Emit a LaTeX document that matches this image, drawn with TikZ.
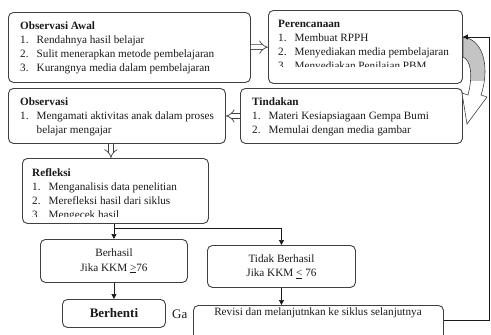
\documentclass[tikz,border=0pt]{standalone}
\usepackage{fontspec}
\setmainfont{Liberation Serif}
\usetikzlibrary{arrows.meta,calc,positioning}
\definecolor{ink}{HTML}{1A1A1A}
\definecolor{edge}{HTML}{404040}
\definecolor{ribbon}{HTML}{C4C4C4}
\newcommand{\nr}[1]{\makebox[16.5pt][l]{#1}}
\tikzset{
  box/.style={draw=edge,fill=white,rounded corners=5pt,line width=0.9pt,inner sep=0pt,anchor=north west},
  txt/.style={inner sep=0pt,anchor=north west,align=left,text=ink,font=\fontsize{11.2}{14}\selectfont},
  ctxt/.style={inner sep=0pt,align=center,text=ink,font=\fontsize{11.2}{14.5}\selectfont},
  flow/.style={-{Triangle[length=5pt,width=5pt]},line width=0.7pt,draw=ink},
  hollow/.style={-{Implies},double=white,double distance=4pt,line width=0.7pt,draw=edge}
}
\def\ribbonpath{(463,37) .. controls (486,40) and (489,72) .. (481,95) -- (487,97) -- (467,124) -- (462,93) -- (468,95) .. controls (473,76) and (471,60) .. (463,57) -- cycle}

\begin{document}
\begin{tikzpicture}[x=1pt,y=-1pt]
  \clip (0,0) rectangle (491,335);
  \fill[white] (0,0) rectangle (491,335);
  % siklus atas
  \node[box,minimum width=242pt,minimum height=70pt] (awal) at (8,12) {};
  \node[txt] (awaltxt) at (20,21.4) {\textbf{Observasi Awal}\\\nr{1.}Rendahnya hasil belajar\\\nr{2.}Sulit menerapkan metode pembelajaran\\\nr{3.}Kurangnya media dalam pembelajaran};
  \node[box,minimum width=194pt,minimum height=73pt] (rencana) at (268,10) {};
  \begin{scope}
    \clip (rencana.north west) rectangle ([yshift=-56pt]rencana.north east);
    \node[txt] (rencanatxt) at (278,20.4) {\textbf{Perencanaan}\\\nr{1.}Membuat RPPH\\\nr{2.}Menyediakan media pembelajaran\\\nr{3.}Menyediakan Penilaian PBM};
  \end{scope}
  \node[box,minimum width=217pt,minimum height=55pt] (obs) at (8,88) {};
  \node[txt] (obstxt) at (20,97.4) {\textbf{Observasi}\\\nr{1.}Mengamati aktivitas anak dalam proses\\\nr{}belajar mengajar};
  \node[box,minimum width=222pt,minimum height=55pt] (tindak) at (240,88) {};
  \node[txt] (tindaktxt) at (252,97.4) {\textbf{Tindakan}\\\nr{1.}Materi Kesiapsiagaan Gempa Bumi\\\nr{2.}Memulai dengan media gambar};
  \node[box,minimum width=186pt,minimum height=65pt] (refl) at (22,158) {};
  \begin{scope}
    \clip (refl.north west) rectangle ([yshift=-58pt]refl.north east);
    \node[txt] (refltxt) at (32,168.4) {\textbf{Refleksi}\\\nr{1.}Menganalisis data penelitian\\\nr{2.}Merefleksi hasil dari siklus\\\nr{3.}Mengecek hasil};
  \end{scope}
  % hasil
  \node[box,minimum width=147pt,minimum height=43pt] (berhasil) at (40,239) {};
  \node[ctxt] (berhasiltxt) at (berhasil.center) {Berhasil\\Jika KKM \underline{>}76};
  \node[box,minimum width=148pt,minimum height=42pt] (tidak) at (207,245) {};
  \node[ctxt] (tidaktxt) at (tidak.center) {Tidak Berhasil\\Jika KKM \underline{<} 76};
  \node[box,minimum width=103pt,minimum height=28pt] (berhenti) at (62,299) {};
  \node[ctxt,font=\fontsize{13}{15}\selectfont\bfseries] (berhentitxt) at (berhenti.center) {Berhenti};
  \node[anchor=west,inner sep=0pt,text=ink,font=\fontsize{13}{15}\selectfont] (gbr) at (172,314) {Ga};
  \node[box,minimum width=250pt,minimum height=60pt] (revisi) at (193,305) {};
  \node[ctxt] (revisitxt) at (318,313) {Revisi dan melanjutnkan ke siklus selanjutnya};
  % panah
  \draw[hollow] (awal) -- (rencana);
  \draw[hollow] (tindak) -- (obs);
  \draw[hollow] ([xshift=-6pt]obs.south) -- ([xshift=-6pt]obs.south |- refl.north);
  \fill[white] \ribbonpath;
  \begin{scope}
    \clip (455,30) rectangle (491,80);
    \fill[ribbon] \ribbonpath;
  \end{scope}
  \draw[edge,line width=0.6pt] \ribbonpath;
  \coordinate (back) at (489,37);
  \draw[flow] ([yshift=-15pt]revisi.north east) -| (back) -- (back -| rencana.east);
  \draw[flow] (berhasil.north |- refl.south) -- (berhasil.north);
  \coordinate (split) at ([yshift=-4pt]berhasil.north |- refl.south);
  \draw[flow] (split) -| (tidak.north);
  \draw[flow] (berhasil) -- (berhenti);
  \draw[flow] (tidak.south) -- (tidak.south |- revisi.north);
\end{tikzpicture}
\end{document}
